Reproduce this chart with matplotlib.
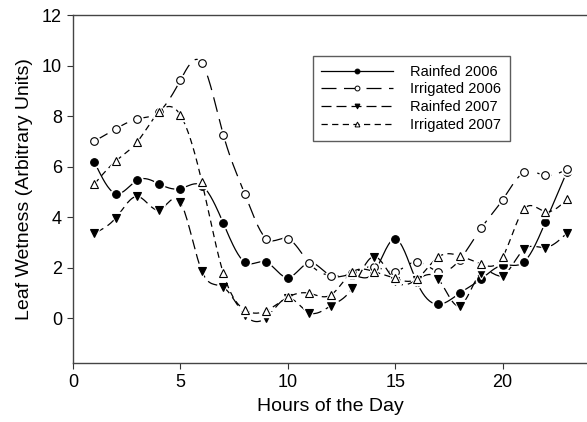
import numpy as np
import matplotlib
matplotlib.use("Agg")
import matplotlib.pyplot as plt

plt.rcParams['font.family'] = ['Liberation Sans', 'DejaVu Sans']

hours = list(range(1, 24))

rainfed_2006 = [6.18, 4.93, 5.47, 5.32, 5.13, 5.25, 3.76, 2.22, 2.22, 1.61, 2.2, 1.68,
                1.71, 1.8, 3.14, 1.45, 0.55, 0.99, 1.55, 2.1, 2.23, 3.81, 5.8]
irrigated_2006 = [7.01, 7.5, 7.89, 8.17, 9.42, 10.1, 7.26, 4.92, 3.15, 3.15, 2.18, 1.69,
                  1.8, 2.04, 1.85, 2.24, 1.85, 2.31, 3.56, 4.68, 5.77, 5.65, 5.9]
rainfed_2007 = [3.37, 3.98, 4.82, 4.29, 4.59, 1.86, 1.23, 0.13, 0.03, 0.8, 0.22, 0.49,
                1.19, 2.44, 1.48, 1.52, 1.56, 0.49, 1.8, 1.69, 2.73, 2.8, 3.37]
irrigated_2007 = [5.32, 6.23, 6.99, 8.16, 8.04, 5.4, 1.78, 0.33, 0.3, 0.83, 0.99, 0.92,
                  1.82, 1.85, 1.58, 1.56, 2.42, 2.47, 2.15, 2.42, 4.32, 4.22, 4.71]


def spline(x, y, n=400):
    # natural cubic spline, only for drawing a smooth line through the points
    x = np.asarray(x, float)
    y = np.asarray(y, float)
    h = np.diff(x)
    m = len(x)
    A = np.zeros((m, m))
    b = np.zeros(m)
    A[0, 0] = A[-1, -1] = 1
    for i in range(1, m - 1):
        A[i, i - 1] = h[i - 1]
        A[i, i] = 2 * (h[i - 1] + h[i])
        A[i, i + 1] = h[i]
        b[i] = 3 * ((y[i + 1] - y[i]) / h[i] - (y[i] - y[i - 1]) / h[i - 1])
    c = np.linalg.solve(A, b)
    xs = np.linspace(x[0], x[-1], n)
    idx = np.clip(np.searchsorted(x, xs) - 1, 0, m - 2)
    dx = xs - x[idx]
    bb = (y[idx + 1] - y[idx]) / h[idx] - h[idx] * (2 * c[idx] + c[idx + 1]) / 3
    dd = (c[idx + 1] - c[idx]) / (3 * h[idx])
    ys = y[idx] + bb * dx + c[idx] * dx ** 2 + dd * dx ** 3
    return xs, ys


fig = plt.figure(figsize=(5.87, 4.22), dpi=100)
ax = fig.add_axes([0.1244, 0.1398, 0.878, 0.8246])

series = [
    ("Rainfed 2006", rainfed_2006, 'o', 'black', None),
    ("Irrigated 2006", irrigated_2006, 'o', 'white', (12, 6)),
    ("Rainfed 2007", rainfed_2007, 'v', 'black', (8, 4)),
    ("Irrigated 2007", irrigated_2007, '^', 'white', (5, 3.5)),
]

for k, (name, vals, mk, fc, dash) in enumerate(series):
    xs, ys = spline(hours, vals)
    style = {} if dash is None else {'dashes': dash}
    ax.plot(xs, ys, color='black', lw=0.9, zorder=2 + k, **style)
    ax.plot(hours, vals, ls='none', marker=mk, ms=8, mfc='white', mec='white', zorder=2 + k)
    ax.plot(hours, vals, ls='none', marker=mk, ms=5.5, mfc=fc, mec='black', mew=0.8, zorder=2 + k)
    # legend handle
    ax.plot([], [], color='black', lw=0.9, marker=mk, ms=3.5, mfc=fc, mec='black',
            mew=0.7, label=name, **style)

ax.set_xlim(0, 24)
ax.set_ylim(-1.77, 12)
ax.set_xticks([0, 5, 10, 15, 20])
ax.set_yticks([0, 2, 4, 6, 8, 10, 12])
ax.tick_params(direction='out', length=4, width=0.8, labelsize=13, pad=4, colors='#333333', labelcolor='black')
for s in ['left', 'bottom', 'top']:
    ax.spines[s].set_color('#444444')
    ax.spines[s].set_linewidth(1.0)
ax.spines['right'].set_visible(False)

ax.set_xlabel('Hours of the Day', fontsize=14, labelpad=5)
ax.set_ylabel('Leaf Wetness (Arbitrary Units)', fontsize=14, labelpad=6)

leg = ax.legend(loc='upper left', bbox_to_anchor=(0.465, 0.882), fontsize=10.5,
                frameon=True, fancybox=False, handlelength=4.9, handletextpad=1.2,
                borderaxespad=0, borderpad=0.6, labelspacing=0.25)
leg.get_frame().set_edgecolor('#333333')
leg.get_frame().set_linewidth(1.0)

fig.savefig('out.png', dpi=100)
